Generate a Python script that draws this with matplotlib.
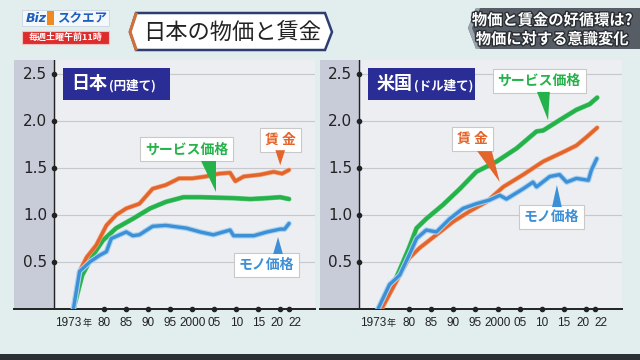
import matplotlib.pyplot as plt
import matplotlib.patheffects as pe
from matplotlib.patches import Polygon, Rectangle

plt.rcParams['font.family'] = ['Noto Sans CJK JP', 'DejaVu Sans']

# 日本（円建て）
jp_wage_year = [1973, 1974.4, 1976, 1978.2, 1980.5, 1982.7, 1985, 1988, 1991, 1994, 1997,
                2000, 2003, 2006, 2008.6, 2009.8, 2011.7, 2015.5, 2018.5, 2020.4, 2022]
jp_wage = [0, 0.40, 0.55, 0.68, 0.89, 1.00, 1.07, 1.12, 1.28, 1.32, 1.39,
           1.39, 1.41, 1.44, 1.45, 1.36, 1.41, 1.43, 1.46, 1.44, 1.48]
jp_service_year = [1973, 1975, 1977.4, 1979.7, 1982.7, 1986.5, 1990.4, 1994, 1998,
                   2001.8, 2009.4, 2013.2, 2017, 2020, 2022]
jp_service = [0, 0.36, 0.57, 0.73, 0.86, 0.96, 1.07, 1.14, 1.19,
              1.19, 1.18, 1.17, 1.18, 1.19, 1.17]
jp_goods_year = [1973, 1974.4, 1976.7, 1978.9, 1980.5, 1981.6, 1985, 1986.5, 1988, 1991, 1994,
                 1998.7, 2001.8, 2004.8, 2008.6, 2009.4, 2014, 2017, 2020, 2021, 2022]
jp_goods = [0, 0.40, 0.50, 0.57, 0.61, 0.75, 0.82, 0.78, 0.79, 0.88, 0.89,
            0.86, 0.82, 0.79, 0.84, 0.78, 0.78, 0.82, 0.85, 0.85, 0.91]

# 米国（ドル建て）
us_service_year = [1973, 1977.1, 1980, 1981.7, 1983.9, 1987.7, 1991.5, 1995.2, 1999.8,
                   2004.3, 2008.8, 2010.3, 2014, 2017.8, 2020.8, 2022.5]
us_service = [0, 0.33, 0.65, 0.86, 0.96, 1.11, 1.28, 1.46, 1.57,
              1.71, 1.89, 1.90, 2.01, 2.12, 2.18, 2.25]
us_wage_year = [1973.8, 1977.1, 1980, 1982.4, 1986.2, 1990, 1993.7, 1997.5, 2001.3,
                2005.8, 2010.3, 2014.8, 2017.8, 2020.1, 2022.5]
us_wage = [0, 0.29, 0.54, 0.65, 0.79, 0.93, 1.04, 1.14, 1.30,
           1.43, 1.57, 1.67, 1.74, 1.83, 1.93]
us_goods_year = [1973, 1975.6, 1977.9, 1980, 1981.7, 1983.9, 1986.2, 1989.2, 1992.2, 1995.2,
                 1998.2, 2000.5, 2002, 2005.8, 2008, 2008.8, 2011.8, 2014, 2015.6, 2017.8,
                 2020.5, 2021.2, 2022.4]
us_goods = [0, 0.26, 0.36, 0.57, 0.75, 0.84, 0.82, 0.96, 1.07, 1.12,
            1.16, 1.21, 1.17, 1.28, 1.35, 1.30, 1.41, 1.43, 1.35, 1.39,
            1.37, 1.48, 1.60]

x_ticks = [1980, 1985, 1990, 1995, 2000, 2005, 2010, 2015, 2020, 2022]
x_labels = ['80', '85', '90', '95', '2000', '05', '10', '15', '20', '22']
x_label_nudge = [0, 0, 0, 0, 0, 0, 0, 0, -0.8, 1.3]   # labels 20 / 22 pushed apart
y_ticks = [0.5, 1.0, 1.5, 2.0, 2.5]
y_labels = ['0.5', '1.0', '1.5', '2.0', '2.5']

ORANGE = '#e4652b'
GREEN = '#25b24a'
BLUE = '#3d8fd6'
NUM_FONT = ['Liberation Sans Narrow', 'Liberation Sans']

fig = plt.figure(figsize=(6.4, 3.6), dpi=100)
fig.patch.set_facecolor('#e2eeee')

# overlay in pixel coords for the TV header
ov = fig.add_axes([0, 0, 1, 1], zorder=0)
ov.set_xlim(0, 640)
ov.set_ylim(360, 0)
ov.axis('off')

# logo + time slot
ov.add_patch(Rectangle((22, 10), 87, 16, fc='#f4f8fb', ec='#c8d4e0', lw=0.6))
ov.text(26, 18.5, 'Biz', color='#1d5fc0', fontsize=9, fontweight='bold', style='italic',
        va='center', family='DejaVu Sans')
ov.add_patch(Rectangle((47, 11), 7, 14, fc='#f08a20', ec='none'))
ov.text(57, 18.5, 'スクエア', color='#1d5fc0', fontsize=9, fontweight='bold', va='center')
ov.add_patch(Rectangle((22, 31), 87, 13, fc='#dd2c2c', ec='#f4c0c0', lw=0.8))
ov.text(65.5, 37.5, '毎週土曜午前11時', color='white', fontsize=6.5, fontweight='bold',
        ha='center', va='center')

# main title chevron
ov.add_patch(Polygon([(130, 32), (136, 13), (325, 13), (332, 32), (325, 50), (136, 50)],
                     closed=True, fc='white', ec='#2d3d70', lw=1.8))
ov.plot([136, 130, 136], [14, 32, 49], color='#d0703a', lw=2.2)
ov.text(232, 32, '日本の物価と賃金', color='#222222', fontsize=16, ha='center', va='center')

# right topic box
ov.add_patch(Polygon([(468, 28), (476, 8), (640, 8), (640, 49), (476, 49)],
                     closed=True, fc='#565d65', ec='none'))
ov.add_patch(Polygon([(468, 28), (476, 8), (480, 8), (472, 28), (480, 49), (476, 49)],
                     closed=True, fc='#9aa4ac', ec='none'))
for txt, yy in [('物価と賃金の好循環は?', 20), ('物価に対する意識変化', 39)]:
    ov.text(552, yy, txt, color='white', fontsize=11, fontweight='bold', ha='center', va='center',
            path_effects=[pe.withStroke(linewidth=2, foreground='#2a2e33')])

# bottom dark strip
ov.add_patch(Rectangle((0, 354), 640, 6, fc='#2b3034', ec='none'))


def callout(ax, x, y, text, color):
    ax.text(x, y, text, color=color, fontsize=10, fontweight='bold', ha='center', va='center',
            zorder=6, bbox=dict(boxstyle='square,pad=0.35', fc='white', ec='#c9c9c9', lw=0.8))


def pointer(ax, pts, color):
    ax.add_patch(Polygon(pts, closed=True, fc=color, ec='none', zorder=6))


def draw_panel(rect, xlim, axis_x, name, sub, series):
    ax = fig.add_axes(rect, zorder=1)
    ax.set_xlim(xlim)
    ax.set_ylim(0, 2.65)
    ax.set_facecolor('#eceef1')
    for s in ax.spines.values():
        s.set_visible(False)
    ax.set_xticks([])
    ax.set_yticks([])
    ax.axvspan(xlim[0], axis_x, color='#c8cbd8', zorder=0)
    for v in y_ticks:
        ax.plot([axis_x, xlim[1]], [v, v], color='#c5c9ce', lw=0.8, zorder=1)
    ax.plot([axis_x, axis_x], [0, 2.65], color='#222222', lw=1.0, zorder=2)
    ax.plot([xlim[0], xlim[1]], [0, 0], color='#222222', lw=1.4, zorder=2, clip_on=False)
    ax.plot([axis_x] * len(y_ticks), y_ticks, 'o', color='#222222', ms=3, zorder=3)
    ax.plot(x_ticks, [0] * len(x_ticks), 'o', color='#222222', ms=3, zorder=3, clip_on=False)
    for v, lab in zip(y_ticks, y_labels):
        ax.text(axis_x - 1.5, v, lab, ha='right', va='center', fontsize=11, color='#222222',
                family='DejaVu Sans')
    for t, lab, dx in zip(x_ticks, x_labels, x_label_nudge):
        ax.text(t + dx, -0.145, lab, ha='center', va='center', fontsize=8.5, color='#222222',
                family=NUM_FONT, clip_on=False)
    ax.text(1971.9, -0.145, '1973', ha='center', va='center', fontsize=8.5, color='#222222',
            family=NUM_FONT, clip_on=False)
    ax.text(1975.0, -0.155, '年', ha='left', va='center', fontsize=6.5, color='#222222',
            clip_on=False)

    # series: green, orange, blue
    (sy, sv), (wy, wv), (gy, gv) = series
    ax.plot(sy, sv, color=GREEN, lw=2.7, zorder=4, solid_capstyle='round',
            path_effects=[pe.Stroke(linewidth=3.5, foreground='#5cc878'), pe.Normal()])
    ax.plot(wy, wv, color=ORANGE, lw=2.4, zorder=4, solid_capstyle='round',
            path_effects=[pe.Stroke(linewidth=3.4, foreground='#f0a47a'), pe.Normal()])
    ax.plot(gy, gv, color=BLUE, lw=2.4, zorder=5, solid_capstyle='round',
            path_effects=[pe.Stroke(linewidth=4.0, foreground='#a6d2f2'), pe.Normal()])

    # name box
    ax.add_patch(Rectangle((axis_x + 2.0, 2.22), 24.3, 0.35, fc='#2b2d96', ec='none', zorder=6))
    ax.text(axis_x + 4.0, 2.395, name, color='white', fontsize=13, fontweight='bold',
            va='center', zorder=7)
    ax.text(axis_x + 12.4, 2.38, sub, color='white', fontsize=9, fontweight='bold',
            va='center', zorder=7)
    return ax


jp = draw_panel([14 / 640, 1 - 309 / 360, 301 / 640, 249 / 360], (1959.5, 2027.9), 1968.6,
                '日本', '(円建て)',
                [(jp_service_year, jp_service), (jp_wage_year, jp_wage), (jp_goods_year, jp_goods)])
us = draw_panel([320 / 640, 1 - 309 / 360, 302 / 640, 249 / 360], (1959.9, 2028.1), 1968.7,
                '米国', '(ドル建て)',
                [(us_service_year, us_service), (us_wage_year, us_wage), (us_goods_year, us_goods)])

# Japan callouts
callout(jp, 2020, 1.80, '賃 金', ORANGE)
pointer(jp, [(2018.9, 1.69), (2021.1, 1.69), (2020, 1.53)], ORANGE)
callout(jp, 1998.8, 1.70, 'サービス価格', GREEN)
pointer(jp, [(2001.9, 1.57), (2005.4, 1.57), (2005.4, 1.245)], GREEN)
callout(jp, 2016.8, 0.47, 'モノ価格', BLUE)
pointer(jp, [(2018.4, 0.585), (2020.6, 0.585), (2019.5, 0.766)], BLUE)

# US callouts
callout(us, 2009.4, 2.43, 'サービス価格', GREEN)
pointer(us, [(2008.9, 2.31), (2011.8, 2.31), (2011.4, 2.01)], GREEN)
callout(us, 1994.4, 1.81, '賃 金', ORANGE)
pointer(us, [(1995.4, 1.68), (1998.7, 1.68), (2000.5, 1.35)], ORANGE)
callout(us, 2012.1, 0.98, 'モノ価格', BLUE)
pointer(us, [(2012.3, 1.085), (2014.5, 1.085), (2013.4, 1.32)], BLUE)

fig.savefig('out.png', dpi=100, facecolor=fig.get_facecolor())
